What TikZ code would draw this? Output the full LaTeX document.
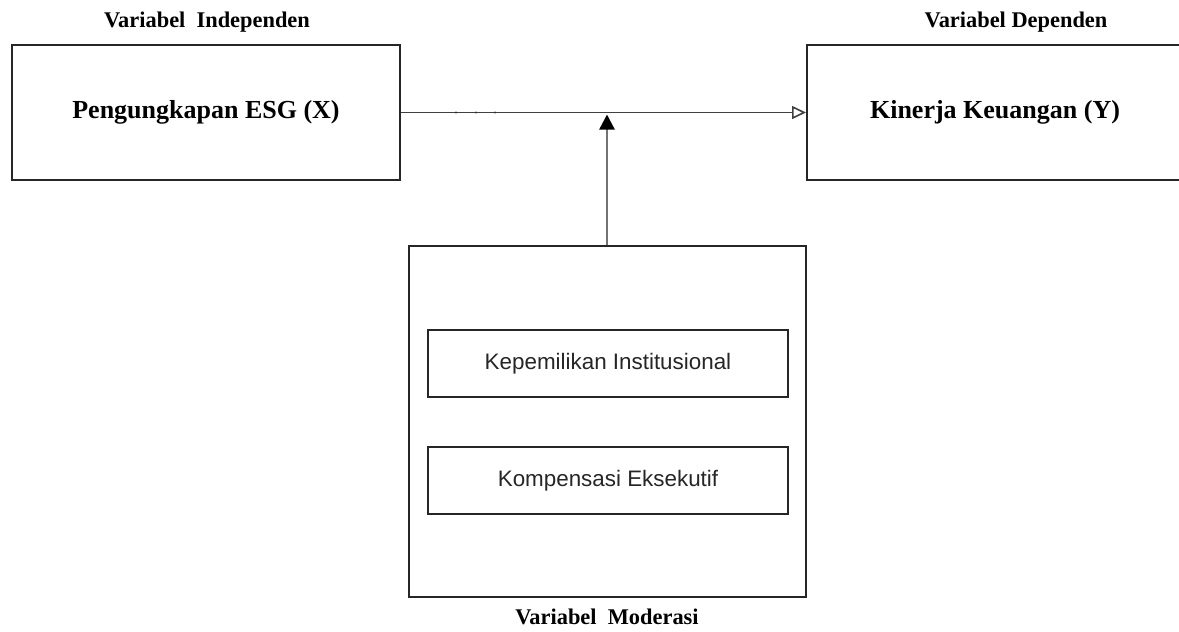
\documentclass[tikz,border=0pt]{standalone}
\usepackage{fontspec}
\setmainfont{Liberation Serif}
\setsansfont{Liberation Sans}
\usetikzlibrary{arrows.meta}
\begin{document}
\begin{tikzpicture}[x=0.5pt,y=-0.5pt,
  bigbox/.style={draw=black!85,line width=0.8pt,inner sep=0pt,font=\bfseries\fontsize{13}{15}\selectfont},
  inbox/.style={draw=black!85,line width=0.8pt,inner sep=0pt,font=\sffamily\fontsize{11.2}{13}\selectfont,text=black!85},
  varlabel/.style={font=\bfseries\fontsize{11.2}{13}\selectfont,inner sep=0pt},
  conn/.style={draw=black!75,line width=0.9pt}
]
\useasboundingbox (0,0) rectangle (1179,632);
\clip (0,0) rectangle (1179,632);
\node[bigbox,minimum width=194pt,minimum height=67.5pt] (X) at (206,112.5) {Pengungkapan ESG (X)};
\node[bigbox,minimum width=189pt,minimum height=67.5pt,anchor=west] (Y) at (806,112.5) {};
\node[font=\bfseries\fontsize{13}{15}\selectfont] (Ytext) at (995,112.5) {Kinerja Keuangan (Y)};
\node[draw=black!85,line width=0.8pt,minimum width=198.5pt,minimum height=175.5pt,inner sep=0pt] (M) at (607.5,421.5) {};
\node[inbox,minimum width=180pt,minimum height=33.5pt] (K1) at (608,363.5) {Kepemilikan Institusional};
\node[inbox,minimum width=180pt,minimum height=33.5pt] (K2) at (608,480.5) {Kompensasi Eksekutif};
\node[varlabel] (LX) at (207,22) {Variabel\ \ Independen};
\node[varlabel] (LY) at (1016,22) {Variabel Dependen};
\node[varlabel,anchor=north] (LM) at (607,609) {Variabel\ \ Moderasi};
\coordinate (J) at (607,112.5);
\draw[conn,-{Triangle[open,length=7pt,width=6.5pt,line width=0.8pt]}] (X.east) -- (Y.west);
\draw[draw=black!55,line width=1.2pt,-{Triangle[length=7.5pt,width=7.5pt,color=black,fill=black]}] (M.north -| J) -- ([yshift=-1pt]J);
\foreach \dx in {456,476,495}{\fill[black!80] (\dx,112.5) circle (0.6pt);}
\end{tikzpicture}
\end{document}
